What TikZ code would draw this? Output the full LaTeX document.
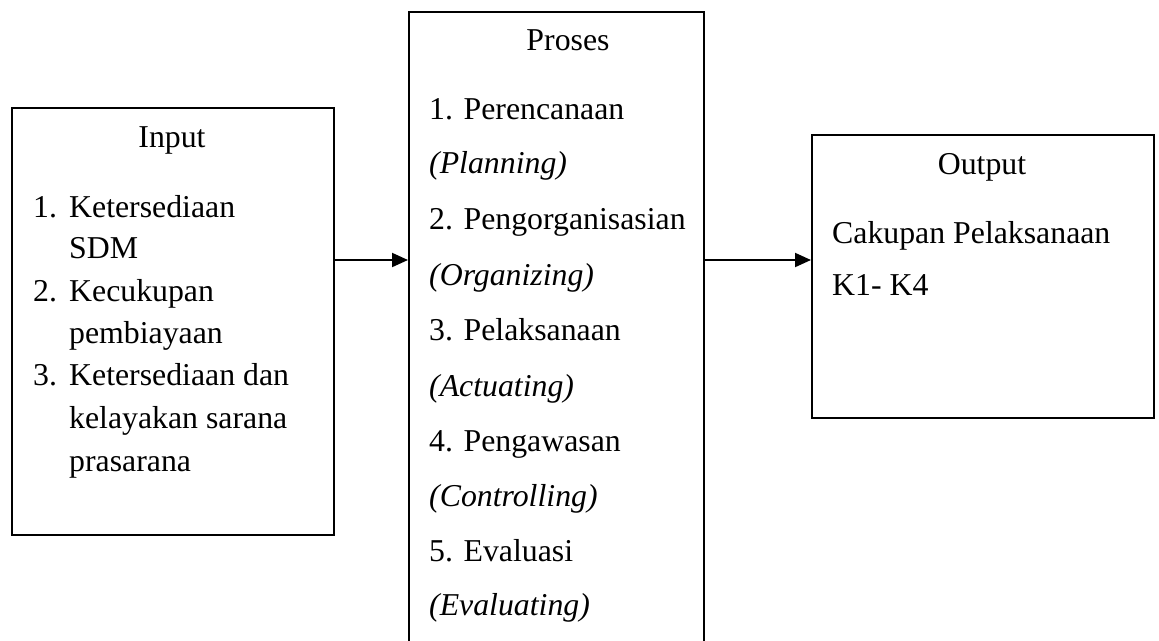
\documentclass[tikz,border=0pt]{standalone}
\usepackage{fontspec}
\setmainfont{Liberation Serif}
\usetikzlibrary{arrows.meta}
\begin{document}
\begin{tikzpicture}[x=1pt,y=-1pt,
  box/.style={draw, line width=2pt, rectangle, inner sep=0pt, anchor=north west},
  txt/.style={anchor=base west, inner sep=0pt, font=\fontsize{31.8}{40}\selectfont},
  ctxt/.style={anchor=base, inner sep=0pt, font=\fontsize{31.8}{40}\selectfont},
  arr/.style={line width=2pt, -{Triangle[length=16pt,width=14pt]}}]
\useasboundingbox (0,0) rectangle (1159,640);
\clip (0,0) rectangle (1159,640);
% boxes
\node[box, minimum width=322pt, minimum height=427pt] (inbox) at (11,107) {};
\node[box, minimum width=295pt, minimum height=660pt] (probox) at (408,11) {};
\node[box, minimum width=342pt, minimum height=283pt] (outbox) at (811,134) {};
% connectors
\coordinate (ay) at (0,260);
\draw[arr] (inbox.east |- ay) -- (probox.west |- ay);
\draw[arr] (probox.east |- ay) -- (outbox.west |- ay);
% input text
\node[ctxt] (inT) at (172,147) {Input};
\node[txt] (in1n) at (33,217) {1.};
\node[txt] (in1a) at (69,217) {Ketersediaan};
\node[txt] (in1b) at (69,258) {SDM};
\node[txt] (in2n) at (33,301) {2.};
\node[txt] (in2a) at (69,301) {Kecukupan};
\node[txt] (in2b) at (69,343) {pembiayaan};
\node[txt] (in3n) at (33,385) {3.};
\node[txt] (in3a) at (69,385) {Ketersediaan dan};
\node[txt] (in3b) at (69,428) {kelayakan sarana};
\node[txt] (in3c) at (69,471) {prasarana};
% proses text
\node[ctxt] (prT) at (568,50) {Proses};
\node[txt] (pr1) at (429,119) {1. Perencanaan};
\node[txt] (pr1e) at (429,173) {\textit{(Planning)}};
\node[txt] (pr2) at (429,229) {2. Pengorganisasian};
\node[txt] (pr2e) at (429,285) {\textit{(Organizing)}};
\node[txt] (pr3) at (429,340) {3. Pelaksanaan};
\node[txt] (pr3e) at (429,396) {\textit{(Actuating)}};
\node[txt] (pr4) at (429,451) {4. Pengawasan};
\node[txt] (pr4e) at (429,506) {\textit{(Controlling)}};
\node[txt] (pr5) at (429,561) {5. Evaluasi};
\node[txt] (pr5e) at (429,615) {\textit{(Evaluating)}};
% output text
\node[ctxt] (outT) at (982,174) {Output};
\node[txt] (out1) at (832,243) {Cakupan Pelaksanaan};
\node[txt] (out2) at (832,295) {K1- K4};
\end{tikzpicture}
\end{document}
